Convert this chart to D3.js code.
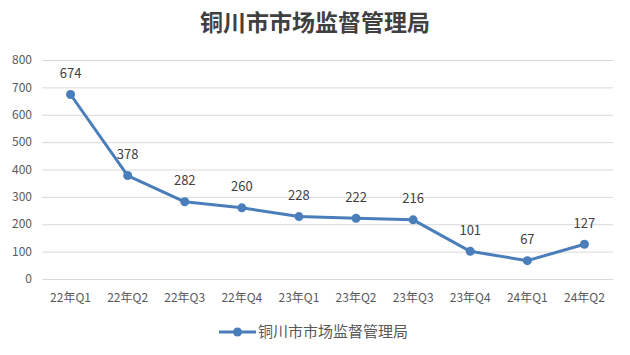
<!DOCTYPE html>
<html>
<head>
<meta charset="utf-8">
<script src="https://cdn.jsdelivr.net/npm/d3@7"></script>
<style>
  body { margin: 0; background: #fff; }
  text { font-family: "Noto Sans CJK SC", "Open Sans", sans-serif; }
</style>
</head>
<body>
<div id="chart"></div>
<script>
const title = "铜川市市场监督管理局";
const categories = ["22年Q1", "22年Q2", "22年Q3", "22年Q4", "23年Q1", "23年Q2", "23年Q3", "23年Q4", "24年Q1", "24年Q2"];
const values = [674, 378, 282, 260, 228, 222, 216, 101, 67, 127];
const yTicks = [0, 100, 200, 300, 400, 500, 600, 700, 800];

const width = 630, height = 355;
const margin = { top: 60, right: 17, bottom: 76, left: 42 };
const color = "#4a7ebb";
const textColor = "#595959";

const svg = d3.select("#chart").append("svg")
  .attr("width", width)
  .attr("height", height);

const x = d3.scaleBand()
  .domain(categories)
  .range([margin.left, width - margin.right]);

const y = d3.scaleLinear()
  .domain([0, 800])
  .range([height - margin.bottom, margin.top]);

// title
svg.append("text")
  .attr("x", width / 2)
  .attr("y", 23)
  .attr("dy", "0.35em")
  .attr("text-anchor", "middle")
  .attr("font-size", 23)
  .attr("font-weight", 700)
  .attr("fill", "#404040")
  .text(title);

// gridlines
svg.append("g")
  .selectAll("line")
  .data(yTicks)
  .join("line")
  .attr("x1", margin.left)
  .attr("x2", width - margin.right)
  .attr("y1", d => y(d) + 0.5)
  .attr("y2", d => y(d) + 0.5)
  .attr("stroke", "#d9d9d9")
  .attr("stroke-width", 1);

// y tick labels
svg.append("g")
  .selectAll("text")
  .data(yTicks)
  .join("text")
  .attr("x", 32)
  .attr("y", d => y(d))
  .attr("dy", "0.35em")
  .attr("text-anchor", "end")
  .attr("font-size", 12)
  .attr("fill", textColor)
  .text(d => d);

// x tick labels
svg.append("g")
  .selectAll("text")
  .data(categories)
  .join("text")
  .attr("x", d => x(d) + x.bandwidth() / 2)
  .attr("y", 298)
  .attr("dy", "0.35em")
  .attr("text-anchor", "middle")
  .attr("font-size", 12)
  .attr("fill", textColor)
  .text(d => d);

const pts = categories.map((c, i) => ({ c, v: values[i] }));
const line = d3.line()
  .x(d => x(d.c) + x.bandwidth() / 2)
  .y(d => y(d.v));

svg.append("path")
  .datum(pts)
  .attr("d", line)
  .attr("fill", "none")
  .attr("stroke", color)
  .attr("stroke-width", 3)
  .attr("stroke-linejoin", "round");

svg.append("g")
  .selectAll("circle")
  .data(pts)
  .join("circle")
  .attr("cx", d => x(d.c) + x.bandwidth() / 2)
  .attr("cy", d => y(d.v))
  .attr("r", 4.5)
  .attr("fill", color);

// data labels
svg.append("g")
  .selectAll("text")
  .data(pts)
  .join("text")
  .attr("x", d => x(d.c) + x.bandwidth() / 2)
  .attr("y", d => y(d.v) - 21)
  .attr("dy", "0.35em")
  .attr("text-anchor", "middle")
  .attr("font-size", 13)
  .attr("fill", "#404040")
  .text(d => d.v);

// legend
const lg = svg.append("g").attr("transform", "translate(219,332)");
lg.append("line")
  .attr("x1", 0).attr("x2", 37)
  .attr("stroke", color).attr("stroke-width", 3);
lg.append("circle")
  .attr("cx", 18.5).attr("r", 4.5).attr("fill", color);
lg.append("text")
  .attr("x", 39)
  .attr("dy", "0.35em")
  .attr("font-size", 15)
  .attr("fill", textColor)
  .text(title);
</script>
</body>
</html>
